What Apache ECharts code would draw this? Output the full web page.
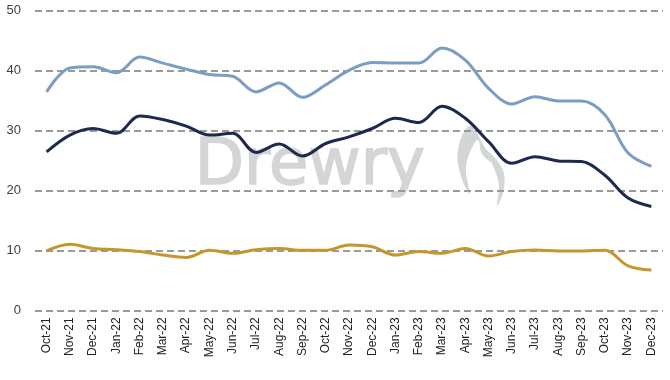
<!DOCTYPE html>
<html>
<head>
<meta charset="utf-8">
<script src="https://cdn.jsdelivr.net/npm/echarts@6/dist/echarts.min.js"></script>
<style>html,body{margin:0;padding:0;background:#fff}#c{width:670px;height:380px}</style>
</head>
<body>
<div id="c"></div>
<script>
const categories = ['Oct-21','Nov-21','Dec-21','Jan-22','Feb-22','Mar-22','Apr-22','May-22','Jun-22','Jul-22','Aug-22','Sep-22','Oct-22','Nov-22','Dec-22','Jan-23','Feb-23','Mar-23','Apr-23','May-23','Jun-23','Jul-23','Aug-23','Sep-23','Oct-23','Nov-23','Dec-23'];
const lightBlue = [36.4,40.4,40.6,39.6,42.2,41.2,40.2,39.3,39.0,36.4,37.9,35.5,37.6,40.0,41.3,41.2,41.2,43.7,41.7,37.0,34.4,35.6,34.9,34.9,32.6,26.2,24.0];
const navy = [26.4,29.2,30.3,29.5,32.4,31.8,30.7,29.2,29.5,26.3,27.7,25.7,27.8,28.9,30.3,32.0,31.3,34.0,32.0,28.1,24.5,25.6,24.9,24.8,22.5,18.7,17.3];
const gold = [9.9,11.0,10.3,10.1,9.8,9.2,8.8,10.0,9.5,10.1,10.3,10.0,10.0,10.9,10.6,9.2,9.8,9.5,10.3,9.05,9.8,10.05,9.9,9.9,10.0,7.4,6.7];
const yTicks = [0,10,20,30,40,50];

const chart = echarts.init(document.getElementById('c'), null, {renderer:'canvas'});
const lineS = (data, color) => ({
  type:'line', data, smooth:0.35, symbol:'none',
  lineStyle:{color, width:3}, z:3
});
chart.setOption({
  animation:false,
  backgroundColor:'#fff',
  grid:{left:35, right:7, top:10.3, bottom:69.7, containLabel:false},
  graphic:[
    {type:'text', left:194, top:135, z:0, silent:true,
     style:{text:'Drewry', font:'64px "DejaVu Sans", sans-serif', fill:'#d3d5d7', stroke:'#d3d5d7', lineWidth:1.6}},
    {type:'polygon', z:0, silent:true,
     shape:{smooth:0.4, points:[[470,126],[458,150],[461,176],[470,194],[466,170],[470,152],[478,140],[482,154],[492,162],[484,146]]},
     style:{fill:'#d3d5d7'}},
    {type:'polygon', z:0, silent:true,
     shape:{smooth:0.4, points:[[486,150],[502,168],[504,188],[497,206],[499,186],[494,168]]},
     style:{fill:'#d3d5d7'}}
  ],
  xAxis:{
    type:'category', data:categories, boundaryGap:true,
    axisLine:{show:false}, axisTick:{show:false},
    axisLabel:{rotate:90, interval:0, fontSize:12, color:'#222', margin:7,
      fontFamily:'"Liberation Sans", Arial, sans-serif'}
  },
  yAxis:{
    type:'value', min:0, max:50, interval:10,
    axisLine:{show:false}, axisTick:{show:false},
    axisLabel:{fontSize:13, color:'#404040', margin:14,
      fontFamily:'"Liberation Sans", Arial, sans-serif',
      formatter:v => yTicks.includes(v) ? String(v) : ''},
    splitLine:{lineStyle:{color:'#9a9a9a', width:2, type:[7,4]}}
  },
  series:[
    lineS(lightBlue,'#7b9dc1'),
    lineS(navy,'#1d2a4e'),
    lineS(gold,'#c5962c')
  ]
});
</script>
</body>
</html>
